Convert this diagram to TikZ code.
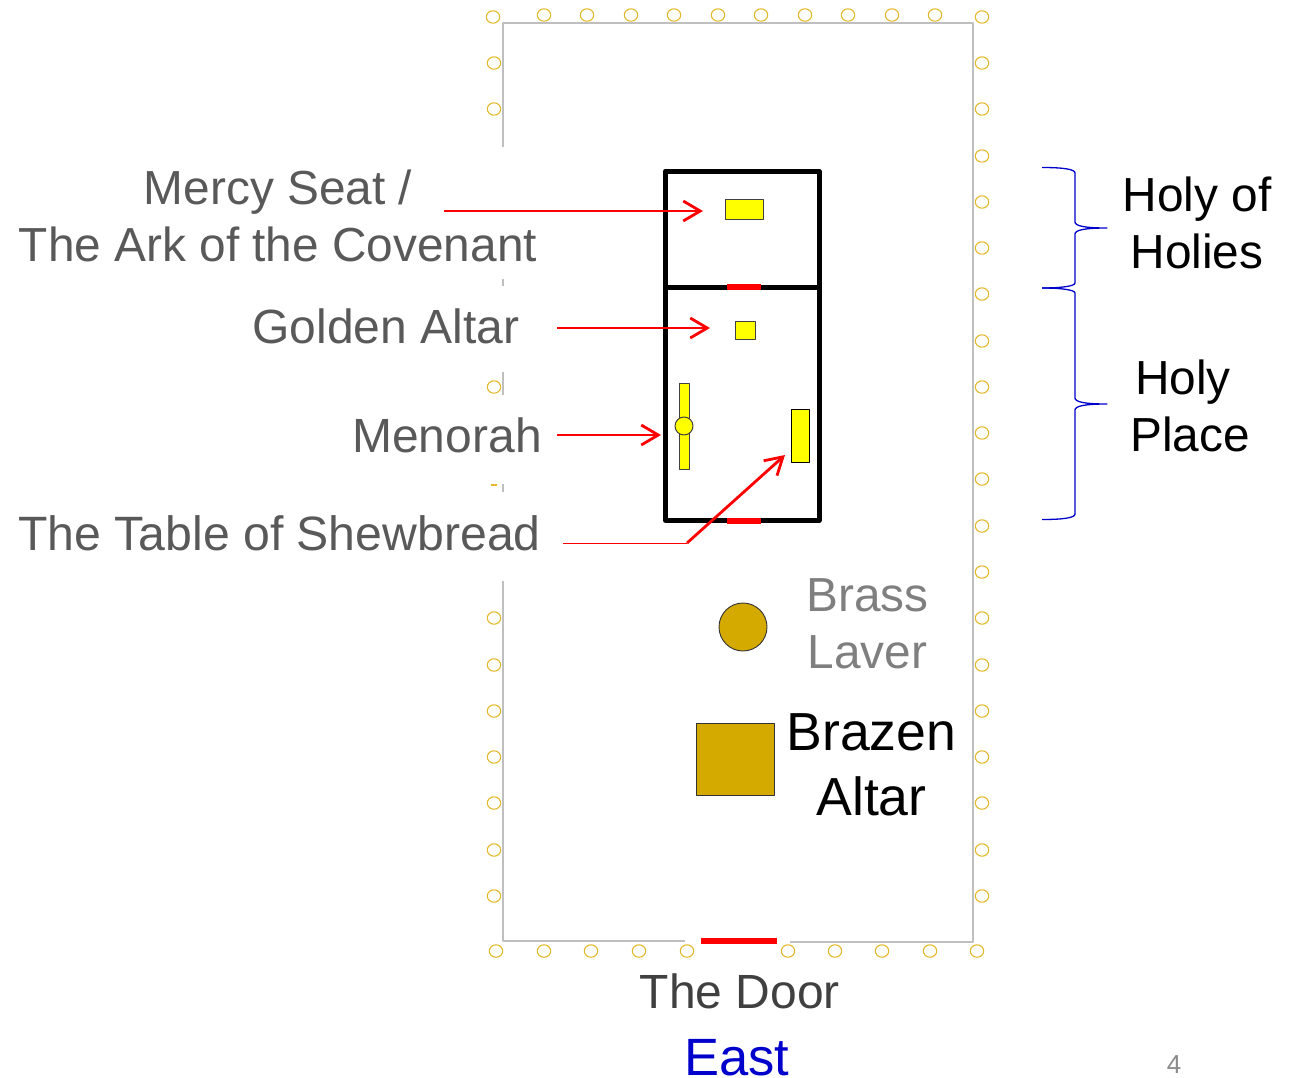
\documentclass[tikz,border=0pt]{standalone}
\usepackage{fontspec}
\setmainfont{Liberation Sans}
\usetikzlibrary{arrows.meta}
\definecolor{wallgray}{HTML}{BFBFBF}
\definecolor{postgold}{HTML}{E3B82A}
\definecolor{labelgray}{HTML}{595959}
\definecolor{lavergray}{HTML}{7F7F7F}
\definecolor{doorgray}{HTML}{404040}
\definecolor{eastblue}{HTML}{0000CC}
\definecolor{numgray}{HTML}{8B8B8B}
\definecolor{altargold}{HTML}{D4AA00}
\definecolor{itemyellow}{RGB}{255,255,0}
\tikzset{
    wall/.style={draw=wallgray, line width=1.4pt},
    post/.style={draw=postgold, line width=1.1pt},
    item/.style={draw=black!75, fill=itemyellow, line width=1pt, inner sep=0pt, outer sep=0pt},
    redbar/.style={draw=red, line width=6pt},
    pointer/.style={draw=red, line width=2.8pt, -{Straight Barb[length=17pt, width=20pt, line width=2.8pt]}},
    curlybrace/.style={draw=eastblue, line width=1.3pt},
    label/.style={inner sep=0pt, align=center, text=labelgray, font=\fontsize{48}{57}\selectfont},
    blacklabel/.style={inner sep=0pt, align=center, text=black, font=\fontsize{47.8}{57}\selectfont},
}
\begin{document}
\begin{tikzpicture}[line cap=butt, line join=round, x=1pt, y=-1pt]
    \useasboundingbox (0,0) rectangle (1304,1077);

    % court walls
    \draw[wall] (503,147) -- (503,23) -- (973,23) -- (973,942) -- (790,942);
    \draw[wall] (503,279) -- (503,286);
    \draw[wall] (503,372) -- (503,395);
    \draw[wall] (503,484) -- (503,492);
    \draw[wall] (503,581) -- (503,941) -- (685,941);

    % posts
    \foreach \px in {544,587,631,674,718,761,805,848,892,935}
        \draw[post] (\px,15) ellipse (6.7pt and 6.2pt);
    \foreach \py in {63,109,387,618,665,711,757,803,850,896}
        \draw[post] (494,\py) ellipse (6.7pt and 6.2pt);
    \foreach \py in {17,63,109,156,202,248,294,341,387,433,479,526,572,618,665,711,757,803,850,896}
        \draw[post] (982,\py) ellipse (6.7pt and 6.2pt);
    \foreach \px in {496,544,591,639,687,788,835,882,930,977}
        \draw[post] (\px,951) ellipse (6.7pt and 6.2pt);
    \draw[post] (493,17) ellipse (6.7pt and 6.2pt);
    \draw[post] (491,485) -- (497,485);

    % tent
    \draw[black, line width=5pt] (665.5,171) rectangle (819,520.5);
    \draw[black, line width=5pt] (665.5,287) -- (819,287);
    \draw[redbar] (727,287) -- (761,287);
    \draw[redbar] (727,520.5) -- (761,520.5);
    \draw[redbar] (701,941) -- (777,941);

    % furniture
    \node[item, minimum width=38pt, minimum height=20pt] (ark) at (744,209) {};
    \node[item, minimum width=20pt, minimum height=18pt] (goldenaltar) at (745,330) {};
    \node[item, minimum width=10pt, minimum height=86pt] (menorahbar) at (684,426) {};
    \node[item, circle, minimum size=18pt] (menorah) at (684,426) {};
    \node[item, draw=black, minimum width=18pt, minimum height=53pt] (table) at (800,435.5) {};
    \node[draw=black!80, fill=altargold, circle, line width=0.9pt, minimum size=48pt, inner sep=0pt] (laver) at (743,627) {};
    \node[draw=black!80, fill=altargold, line width=0.9pt, minimum width=78.5pt, minimum height=72pt, inner sep=0pt] (altar) at (735.5,759) {};

    % labels
    \node[label, font=\fontsize{47.8}{57}\selectfont] (mercy) at (278,216) {Mercy Seat /\\The Ark of the Covenant};
    \node[label] (golden) at (386,326) {Golden Altar};
    \node[label] (menorahtext) at (447,435) {Menorah};
    \node[label, font=\fontsize{48.2}{57}\selectfont] (shewbread) at (279.5,533) {The Table of Shewbread};
    \node[blacklabel, text=lavergray] (brass) at (867.5,624) {Brass\\Laver};
    \node[blacklabel, font=\fontsize{53.6}{65}\selectfont] (brazen) at (871.5,765) {Brazen\\Altar};
    \node[blacklabel] (holies) at (1197,223) {Holy of\\Holies};
    \node[blacklabel] (holy) at (1183,382) {Holy};
    \node[blacklabel] (place) at (1190,434.5) {Place};
    \node[label, text=doorgray] (door) at (740,991) {The Door};
    \node[label, text=eastblue, font=\fontsize{52.5}{65}\selectfont, text depth=0pt, anchor=base] (east) at (737,1075) {East};
    \node[label, text=numgray, font=\fontsize{26}{30}\selectfont] (slidenum) at (1174,1065) {4};

    % pointers
    \coordinate (arkfrom) at (444,211);
    \coordinate (arkto) at (703,211);
    \coordinate (goldenfrom) at (557,328);
    \coordinate (goldento) at (710,328);
    \coordinate (menorahfrom) at (557,435);
    \coordinate (menorahto) at (661,435);
    \coordinate (tablefrom) at (563,543);
    \coordinate (tablebend) at (687,543);
    \coordinate (tableto) at (785,455);
    \draw[pointer] (arkfrom) -- (arkto);
    \draw[pointer] (goldenfrom) -- (goldento);
    \draw[pointer] (menorahfrom) -- (menorahto);
    \draw[red, line width=1pt] (tablefrom) -- (tablebend);
    \draw[pointer] (tablebend) -- (tableto);

    % braces
    \draw[curlybrace] (1042,167.5) .. controls (1062,167.5) and (1075,169) .. (1075,173)
        -- (1075,222) .. controls (1075,226) and (1085,228) .. (1107,228)
        .. controls (1085,228) and (1075,230) .. (1075,234)
        -- (1075,283) .. controls (1075,286) and (1062,288) .. (1042,288);
    \draw[curlybrace] (1042,288) .. controls (1062,288) and (1075,290) .. (1075,293)
        -- (1075,398) .. controls (1075,402) and (1085,404) .. (1107,404)
        .. controls (1085,404) and (1075,406) .. (1075,410)
        -- (1075,514) .. controls (1075,518) and (1062,519.5) .. (1042,519.5);
\end{tikzpicture}
\end{document}
